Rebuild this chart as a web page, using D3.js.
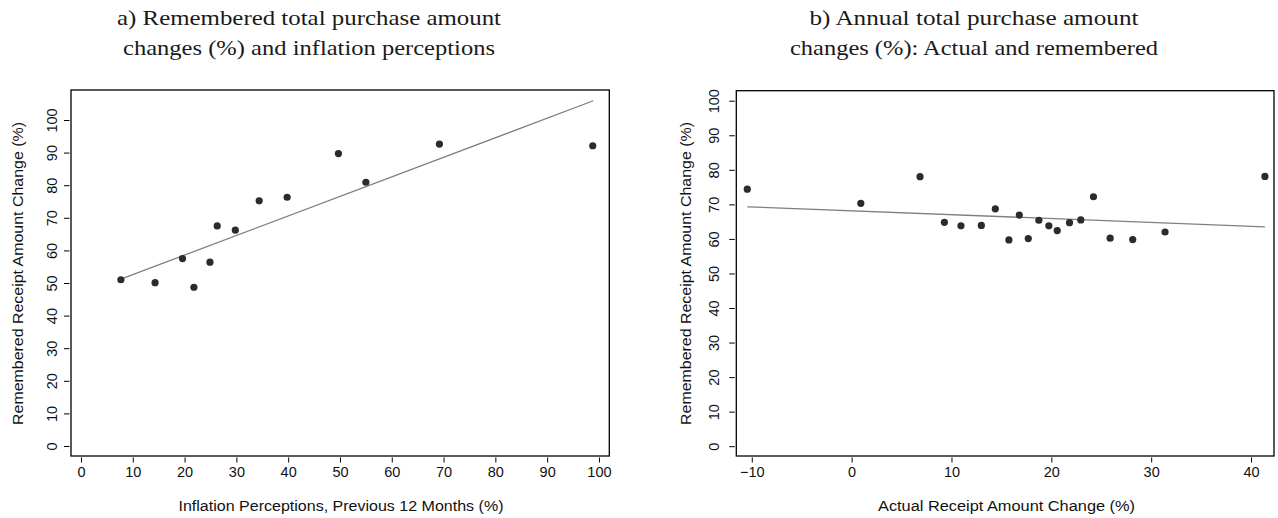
<!DOCTYPE html>
<html>
<head>
<meta charset="utf-8">
<script src="https://cdn.jsdelivr.net/npm/d3@7"></script>
<style>
  html, body { margin: 0; padding: 0; background: #fff; }
  svg { display: block; }
  .tick text { font-family: "Liberation Sans", Arial, sans-serif; }
</style>
</head>
<body>
<svg id="chart" width="1278" height="518"></svg>
<script>
// ---- Data ----
// Panel a
const inflationPerception = [7.7, 14.3, 19.6, 21.8, 24.9, 26.3, 29.8, 34.4, 39.8, 49.7, 55.0, 69.2, 98.8];
const rememberedChangeA   = [51.0, 50.1, 57.5, 48.7, 56.4, 67.5, 66.2, 75.2, 76.3, 89.7, 80.9, 92.6, 92.1];
const fitLineAx = [7.7, 98.9];
const fitLineAy = [51.2, 105.9];
// Panel b
const actualChange       = [-10.45, 0.92, 6.85, 9.29, 10.95, 12.99, 14.39, 15.75, 16.79, 17.69, 18.75, 19.75, 20.59, 21.82, 22.95, 24.22, 25.89, 28.15, 31.39, 41.39];
const rememberedChangeB  = [74.4, 70.3, 78.0, 64.8, 63.8, 63.9, 68.7, 59.7, 66.9, 60.1, 65.4, 63.8, 62.4, 64.7, 65.5, 72.2, 60.2, 59.8, 62.0, 78.1];
const fitLineBx = [-10.45, 41.39];
const fitLineBy = [69.3, 63.5];
// Tick labels
const xTicksA = [0, 10, 20, 30, 40, 50, 60, 70, 80, 90, 100];
const yTicksA = [0, 10, 20, 30, 40, 50, 60, 70, 80, 90, 100];
const xTicksB = [-10, 0, 10, 20, 30, 40];
const yTicksB = [0, 10, 20, 30, 40, 50, 60, 70, 80, 90, 100];
// Text
const titleA = ["a) Remembered total purchase amount", "changes (%) and inflation perceptions"];
const titleB = ["b) Annual total purchase amount", "changes (%): Actual and remembered"];
const xLabelA = "Inflation Perceptions, Previous 12 Months (%)";
const xLabelB = "Actual Receipt Amount  Change (%)";
const yLabel = "Remembered Receipt Amount Change (%)";

const svg = d3.select("#chart");

function panel(cfg) {
  const x = d3.scaleLinear().domain(cfg.xDomain).range([cfg.left, cfg.right]);
  const y = d3.scaleLinear().domain(cfg.yDomain).range([cfg.bottom, cfg.top]);
  const g = svg.append("g");

  // titles
  cfg.title.forEach((t, i) => {
    g.append("text")
      .attr("x", cfg.titleX).attr("y", 25 + i * 30)
      .attr("text-anchor", "middle")
      .attr("textLength", cfg.titleW[i]).attr("lengthAdjust", "spacingAndGlyphs")
      .style("font-family", "'Liberation Serif', 'DejaVu Serif', serif")
      .style("font-size", "22px")
      .style("fill", "#1a1a1a")
      .text(t);
  });

  // x axis (ticks offset below frame)
  const xa = g.append("g")
    .attr("transform", `translate(0,${cfg.bottom + 1.5})`)
    .call(d3.axisBottom(x).tickValues(cfg.xTicks).tickSize(5).tickPadding(4.5).tickSizeOuter(0));
  xa.select(".domain").remove();
  xa.selectAll(".tick line").attr("stroke", "#000").attr("stroke-width", 1);
  xa.selectAll(".tick text").style("font-size", "14.5px").attr("fill", "#111");

  // y axis
  const ya = g.append("g")
    .attr("transform", `translate(${cfg.left - 1.5},0)`)
    .call(d3.axisLeft(y).tickValues(cfg.yTicks).tickSize(5.5).tickSizeOuter(0));
  ya.select(".domain").remove();
  ya.selectAll(".tick line").attr("stroke", "#000").attr("stroke-width", 1);
  ya.selectAll(".tick text")
    .attr("x", null)
    .attr("text-anchor", "middle")
    .attr("transform", `translate(${-cfg.yLabelOff},0) rotate(-90)`)
    .attr("dy", "0.36em")
    .style("font-size", "14.5px").attr("fill", "#111");

  // frame
  g.append("rect")
    .attr("x", cfg.left).attr("y", cfg.top)
    .attr("width", cfg.right - cfg.left).attr("height", cfg.bottom - cfg.top)
    .attr("fill", "none").attr("stroke", "#000").attr("stroke-width", 1.3);

  // fit line
  const line = d3.line().x(d => x(d[0])).y(d => y(d[1]));
  g.append("path")
    .datum(cfg.fitX.map((v, i) => [v, cfg.fitY[i]]))
    .attr("d", line)
    .attr("fill", "none").attr("stroke", "#7f7f7f").attr("stroke-width", 1.3);

  // points
  g.selectAll("circle.pt")
    .data(cfg.xs.map((v, i) => [v, cfg.ys[i]]))
    .enter().append("circle")
    .attr("class", "pt")
    .attr("cx", d => x(d[0])).attr("cy", d => y(d[1]))
    .attr("r", 3.6).attr("fill", "#2b2b2b");

  // axis titles
  g.append("text")
    .attr("x", cfg.xLabelX).attr("y", 511)
    .attr("text-anchor", "middle")
    .attr("textLength", cfg.xLabelW).attr("lengthAdjust", "spacingAndGlyphs")
    .style("font-family", "'Liberation Sans', Arial, sans-serif")
    .style("font-size", "15.5px").attr("fill", "#111")
    .text(cfg.xLabel);
  g.append("text")
    .attr("transform", `translate(${cfg.yTitleX},273.5) rotate(-90)`)
    .attr("text-anchor", "middle").attr("dy", "0.36em")
    .attr("textLength", 303).attr("lengthAdjust", "spacingAndGlyphs")
    .style("font-family", "'Liberation Sans', Arial, sans-serif")
    .style("font-size", "15.5px").attr("fill", "#111")
    .text(yLabel);
}

panel({
  left: 71, right: 609.3, top: 90, bottom: 456,
  xDomain: [-1.93, 102.0], yDomain: [-3.07, 109.2],
  xTicks: xTicksA, yTicks: yTicksA,
  xs: inflationPerception, ys: rememberedChangeA,
  fitX: fitLineAx, fitY: fitLineAy,
  title: titleA, titleX: 309, titleW: [384, 372],
  xLabel: xLabelA, xLabelX: 341, xLabelW: 325, yTitleX: 17.5, yLabelOff: 17.5
});

panel({
  left: 736.3, right: 1274, top: 90.7, bottom: 456,
  xDomain: [-11.55, 42.3], yDomain: [-2.84, 102.9],
  xTicks: xTicksB, yTicks: yTicksB,
  xs: actualChange, ys: rememberedChangeB,
  fitX: fitLineBx, fitY: fitLineBy,
  title: titleB, titleX: 974, titleW: [329, 368],
  xLabel: xLabelB, xLabelX: 1006.5, xLabelW: 257, yTitleX: 685, yLabelOff: 21.5
});
</script>
</body>
</html>
